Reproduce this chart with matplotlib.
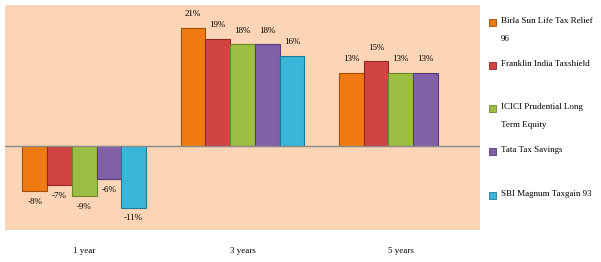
import matplotlib
matplotlib.use("Agg")
import matplotlib.pyplot as plt
import numpy as np
from matplotlib.patches import Rectangle

categories = ["1 year", "3 years", "5 years"]
series_names = ["Birla Sun Life Tax Relief\n96", "Franklin India Taxshield",
                "ICICI Prudential Long\nTerm Equity", "Tata Tax Savings",
                "SBI Magnum Taxgain 93"]
birla = [-8, 21, 13]
franklin = [-7, 19, 15]
icici = [-9, 18, 13]
tata = [-6, 18, 13]
sbi = [-11, 16, np.nan]
series_values = [birla, franklin, icici, tata, sbi]
colors = ["#F07A12", "#D24343", "#9DBE45", "#8160A8", "#3AB6D8"]
edges = ["#A04E08", "#8E2626", "#6A8A2A", "#553C78", "#1F7A95"]

plt.rcParams['font.family'] = ['Liberation Serif', 'DejaVu Serif']

fig = plt.figure(figsize=(6.01, 2.62), dpi=100)
ax = fig.add_axes([5/601, 1-230/262, 475/601, 225/262])
ax.set_facecolor("#FBD5B5")

x = np.arange(len(categories))
w = 0.156
for i, (vals, c, ec) in enumerate(zip(series_values, colors, edges)):
    pos = x - 2*w + i*w
    v = np.array(vals, dtype=float)
    bars = ax.bar(pos, v, width=w, color=c, edgecolor=ec, linewidth=0.8, zorder=3)
    for xp, val in zip(pos, v):
        if np.isnan(val):
            continue
        if val >= 0:
            ax.annotate(f"{int(val)}%", (xp, val), xytext=(0, 7), textcoords="offset points",
                        ha="center", va="bottom", fontsize=6.5)
        else:
            ax.annotate(f"{int(val)}%", (xp, val), xytext=(0, -5), textcoords="offset points",
                        ha="center", va="top", fontsize=6.5)

ax.axhline(0, color="#8C8C8C", linewidth=1, zorder=4)
ax.set_xlim(-0.5, 2.5)
ax.set_ylim(-15, 25)
ax.set_yticks([])
ax.set_xticks(x)
ax.set_xticklabels(categories, fontsize=6.5)
ax.tick_params(axis='x', length=0, pad=12)
for s in ax.spines.values():
    s.set_visible(False)

# legend
ys = [22, 65, 108, 151, 195]
for name, c, ec, yy in zip(series_names, colors, edges, ys):
    fig.patches.append(Rectangle((489/601, 1-(yy+4)/262), 7/601, 7/262,
                                 transform=fig.transFigure, facecolor=c, edgecolor=ec, linewidth=0.6))
    fig.text(501/601, 1-(yy-5)/262, name, fontsize=6.5, va="top", ha="left", linespacing=2.6)

fig.savefig("out.png", dpi=100)
